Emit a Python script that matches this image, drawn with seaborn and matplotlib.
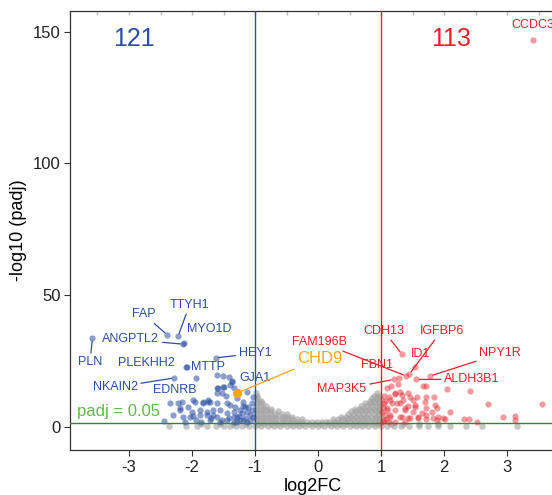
import matplotlib
matplotlib.use("Agg")
import matplotlib.pyplot as plt
from matplotlib.ticker import MultipleLocator
import seaborn as sns
import pandas as pd

# ---- data ----
# non-significant genes (grey), one row of x values per -log10(padj) level
gray_row_y = [0.3, 0.9, 1.8, 2.8, 3.8, 4.8, 5.8, 6.8, 7.8, 8.8, 9.8, 10.8, 11.8, 12.8]
gray_row_x = [
    [-2.37, -2.1, -1.92, -1.76, -1.62, -1.5, -1.4, -1.3, -1.2, -1.1, -1.0, -0.9, -0.8, -0.7,
     -0.6, -0.5, -0.4, -0.3, -0.2, -0.1, 0.0, 0.1, 0.2, 0.3, 0.4, 0.5, 0.6, 0.7, 0.8, 0.9,
     1.0, 1.1, 1.2, 1.32, 1.45, 1.6, 1.75, 1.9, 2.1, 2.35, 2.6, 3.16],
    [-1.85, -1.55, -1.35, -1.15, -0.95, -0.85, -0.75, -0.65, -0.55, -0.45, -0.35, -0.25, -0.15,
     -0.05, 0.05, 0.15, 0.25, 0.35, 0.45, 0.55, 0.65, 0.75, 0.85, 0.95, 1.15, 1.35, 1.6, 1.9],
    [-0.98, -0.9, -0.82, -0.74, -0.66, -0.58, -0.5, -0.42, -0.34, -0.26, -0.18, -0.1, -0.02,
     0.06, 0.12, 0.18, 0.26, 0.34, 0.42, 0.5, 0.58, 0.66, 0.74, 0.82, 0.9, 0.98],
    [-0.98, -0.9, -0.82, -0.74, -0.66, -0.58, -0.5, -0.42, -0.34, -0.26,
     0.24, 0.32, 0.4, 0.48, 0.56, 0.64, 0.72, 0.8, 0.88, 0.96],
    [-0.98, -0.9, -0.82, -0.74, -0.66, -0.58, -0.5, -0.42,
     0.36, 0.44, 0.52, 0.6, 0.68, 0.76, 0.84, 0.92, 0.98],
    [-0.98, -0.9, -0.82, -0.74, -0.66, -0.58, -0.5, 0.48, 0.56, 0.64, 0.72, 0.8, 0.88, 0.96],
    [-0.98, -0.9, -0.82, -0.74, -0.64, 0.52, 0.6, 0.68, 0.76, 0.84, 0.92, 0.98],
    [-0.98, -0.9, -0.82, -0.74, 0.58, 0.66, 0.74, 0.82, 0.9, 0.97],
    [-0.98, -0.9, -0.82, 0.68, 0.76, 0.84, 0.92, 0.98],
    [-0.97, -0.89, 0.75, 0.83, 0.9, 0.97],
    [-0.96, -0.9, 0.82, 0.89, 0.96],
    [-0.97, 0.86, 0.93, 0.98],
    [-0.97, 0.89, 0.95],
    [-0.98, 0.93],
]

# down-regulated genes (blue)
down_x = [-2.35, -2.16, -2.19, -1.95, -1.82, -1.74, -1.58, -1.53, -1.40, -1.34,
          -1.61, -1.42, -2.00, -2.03, -1.87, -1.77, -1.66, -1.61, -1.53, -1.40,
          -1.34, -1.29, -1.21, -1.16, -1.16, -2.14, -2.11, -1.93, -1.71, -1.45,
          -1.34, -1.24, -1.37, -1.61, -1.51, -1.13, -1.03, -1.98, -1.74, -1.61,
          -1.45, -1.32, -1.19, -2.19, -2.06, -1.87, -2.22, -1.11, -1.19, -1.08,
          -1.13, -1.24, -1.34, -1.45, -1.56, -1.66, -1.77, -1.82, -1.71, -1.61,
          -1.50, -1.37, -1.05, -1.03, -1.08, -1.19, -1.29, -1.12, -1.25, -1.42,
          -1.55, -1.70, -1.85, -1.98, -2.30, -2.45, -1.05, -1.28, -1.46]
down_y = [8.8, 9.4, 6.3, 9.4, 9.4, 10.1, 14.5, 12.6, 15.8, 14.5,
          19.6, 18.9, 5.6, 3.7, 4.4, 5.6, 6.3, 3.7, 2.5, 8.2,
          5.6, 3.7, 5.0, 7.5, 3.1, 3.7, 1.8, 2.5, 2.5, 2.5,
          1.8, 2.5, 17.4, 14.5, 14.9, 13.2, 11.3, 10.1, 9.4, 8.8,
          8.8, 7.5, 7.8, 6.9, 7.5, 6.3, 8.8, 7.5, 9.4, 4.4,
          5.6, 6.3, 3.7, 5.0, 6.3, 4.4, 4.4, 8.8, 9.4, 12.6,
          15.1, 17.0, 6.3, 3.7, 2.5, 2.5, 1.8, 1.9, 4.2, 3.4,
          1.9, 3.2, 1.9, 4.0, 4.5, 2.2, 9.0, 11.0, 11.8]

# up-regulated genes (red)
up_x = [1.67, 1.72, 2.04, 2.41, 1.09, 1.22, 1.30, 1.43, 1.57, 1.72,
        1.84, 1.14, 1.35, 1.51, 2.70, 3.55, 1.04, 1.25, 1.09, 1.22,
        1.38, 1.54, 1.72, 1.88, 2.10, 1.14, 1.30, 1.43, 1.59, 1.72,
        1.83, 1.99, 2.31, 2.39, 2.52, 2.94, 3.13, 3.13, 1.12, 1.22,
        1.33, 1.46, 1.17, 1.30, 1.43, 1.54, 1.70, 1.86, 1.09, 1.38,
        1.51, 1.65, 1.80, 1.91, 1.06, 1.14, 1.33, 1.46, 1.59, 1.72,
        1.88, 2.02, 1.04, 1.12, 1.22, 1.38, 1.05, 1.15, 1.27, 1.02,
        1.03, 1.06, 1.08, 1.03]
up_y = [15.4, 15.4, 14.1, 13.6, 14.5, 12.6, 13.2, 12.8, 11.3, 11.3,
        11.1, 10.1, 10.1, 10.1, 8.5, 8.5, 8.8, 8.8, 6.3, 6.3,
        6.3, 7.5, 6.9, 6.9, 5.6, 4.4, 3.7, 3.1, 3.7, 4.4,
        3.1, 3.1, 2.8, 2.8, 1.8, 3.7, 4.1, 2.5, 11.3, 12.3,
        12.0, 11.3, 8.8, 8.8, 7.8, 8.2, 9.4, 8.2, 6.9, 6.9,
        5.6, 5.0, 5.6, 3.7, 4.4, 3.7, 3.7, 3.1, 3.1, 2.7,
        2.5, 2.7, 2.5, 1.8, 1.8, 1.8, 11.8, 15.5, 16.2, 5.5,
        7.4, 9.8, 3.0, 1.7]

# labelled genes
down_genes = ["PLN", "FAP", "TTYH1", "ANGPTL2", "MYO1D", "HEY1", "PLEKHH2",
              "MTTP", "NKAIN2", "EDNRB", "GJA1"]
down_gx = [-3.58, -2.39, -2.22, -2.14, -2.13, -1.62, -2.08, -2.10, -2.28, -1.93, -1.51]
down_gy = [33.5, 34.8, 34.4, 31.3, 31.6, 26.1, 22.7, 22.5, 18.5, 18.3, 19.2]

up_genes = ["CDH13", "IGFBP6", "ID1", "FAM196B", "FBN1", "NPY1R", "ALDH3B1",
            "MAP3K5", "CCDC3"]
up_gx = [1.33, 1.45, 1.54, 1.40, 1.28, 1.78, 1.56, 1.20, 3.41]
up_gy = [27.5, 20.0, 22.7, 19.2, 18.5, 19.2, 17.9, 17.9, 146.7]

focus_gene = "CHD9"
focus_x, focus_y = -1.28, 12.8

n_down, n_up = 121, 113
fc_cut = 1
padj_line = 1.3  # -log10(0.05)

# ---- label placement (text centres, data units) ----
label_pos = {
    "PLN": (-3.62, 24.4), "FAP": (-2.77, 42.7), "TTYH1": (-2.04, 46.2),
    "ANGPTL2": (-2.97, 33.1), "MYO1D": (-1.72, 36.9), "HEY1": (-1.0, 27.8),
    "PLEKHH2": (-2.72, 24.3), "MTTP": (-1.75, 22.5), "NKAIN2": (-3.22, 14.9),
    "EDNRB": (-2.27, 13.9), "GJA1": (-1.0, 18.3),
    "CDH13": (1.04, 36.4), "IGFBP6": (1.96, 36.4), "ID1": (1.62, 27.5),
    "FAM196B": (0.02, 32.2), "FBN1": (0.93, 23.4), "NPY1R": (2.89, 27.8),
    "ALDH3B1": (2.44, 18.0), "MAP3K5": (0.38, 14.1), "CCDC3": (3.41, 152.5),
    "CHD9": (0.03, 25.9),
}
with_segment = {"PLN", "FAP", "TTYH1", "ANGPTL2", "HEY1", "NKAIN2",
                "CDH13", "IGFBP6", "FAM196B", "NPY1R", "ALDH3B1", "MAP3K5", "CHD9"}

BLUE = "#2B4FA2"
RED = "#E8202A"
GREY = "#A0A0A0"
ORANGE = "#F8A51C"
GREEN_LINE = "#3B7F3B"
GREEN_TXT = "#62B94A"

# ---- build frames ----
gray_x, gray_y = [], []
for yv, xs in zip(gray_row_y, gray_row_x):
    gray_x.extend(xs)
    gray_y.extend([yv] * len(xs))
gray_df = pd.DataFrame({"log2FC": gray_x, "nlp": gray_y})
down_df = pd.DataFrame({"log2FC": down_x + down_gx, "nlp": down_y + down_gy})
up_df = pd.DataFrame({"log2FC": up_x + up_gx, "nlp": up_y + up_gy})

sns.set_theme(style="ticks")
plt.rcParams['font.family'] = ['Liberation Sans', 'DejaVu Sans']
plt.rcParams['axes.unicode_minus'] = False

fig = plt.figure(figsize=(5.52, 4.95), dpi=100)
ax = fig.add_axes([0.1275, 0.0909, 0.878, 0.887])

sns.scatterplot(data=gray_df, x="log2FC", y="nlp", color=GREY, alpha=0.6, s=22,
                linewidth=0, ax=ax, legend=False)
sns.scatterplot(data=down_df, x="log2FC", y="nlp", color=BLUE, alpha=0.55, s=20,
                linewidth=0, ax=ax, legend=False)
sns.scatterplot(data=up_df, x="log2FC", y="nlp", color=RED, alpha=0.45, s=20,
                linewidth=0, ax=ax, legend=False)
ax.scatter([focus_x], [focus_y], color=ORANGE, s=45, linewidth=0, zorder=4)

ax.axvline(-fc_cut, color=BLUE, lw=1, zorder=3)
ax.axvline(fc_cut, color=RED, lw=1, zorder=3)
ax.axhline(padj_line, color=GREEN_LINE, lw=1, zorder=3)


def put_label(gene, gx, gy, color, size=9):
    tx, ty = label_pos[gene]
    if gene in with_segment:
        ax.annotate(gene, xy=(gx, gy), xytext=(tx, ty), ha="center", va="center",
                    fontsize=size, color=color, zorder=5,
                    arrowprops=dict(arrowstyle="-", color=color, lw=0.9,
                                    shrinkA=0, shrinkB=2))
    else:
        ax.text(tx, ty, gene, ha="center", va="center", fontsize=size,
                color=color, zorder=5)


for g, gx, gy in zip(down_genes, down_gx, down_gy):
    put_label(g, gx, gy, BLUE)
for g, gx, gy in zip(up_genes, up_gx, up_gy):
    put_label(g, gx, gy, RED)
put_label(focus_gene, focus_x, focus_y, ORANGE, size=12)

ax.text(-2.92, 147.1, str(n_down), ha="center", va="center", fontsize=18, color=BLUE)
ax.text(2.11, 147.1, str(n_up), ha="center", va="center", fontsize=18, color=RED)
ax.text(-3.82, 5.6, "padj = 0.05", ha="left", va="center", fontsize=12, color=GREEN_TXT)

ax.set_xlim(-3.93, 3.76)
ax.set_ylim(-8.9, 157.9)
ax.set_xticks([-3, -2, -1, 0, 1, 2, 3])
ax.set_yticks([0, 50, 100, 150])
ax.xaxis.set_minor_locator(MultipleLocator(0.5))
ax.xaxis.remove_overlapping_locs = False
ax.tick_params(axis="x", which="minor", bottom=False, top=True, direction="in",
               length=3, color="#BBBBBB")
ax.tick_params(axis="both", which="major", labelsize=12, colors="#333333",
               length=4, width=0.8, pad=3)
ax.tick_params(axis="both", which="major", labelcolor="#222222")
for side in ["left", "bottom", "top"]:
    ax.spines[side].set_color("#333333")
    ax.spines[side].set_linewidth(0.9)
ax.spines["top"].set_visible(True)
ax.spines["right"].set_visible(False)

ax.set_xlabel("log2FC", fontsize=13, color="black", labelpad=2)
ax.set_ylabel("-log10 (padj)", fontsize=13, color="black", labelpad=4)

fig.savefig("out.png", dpi=100)
